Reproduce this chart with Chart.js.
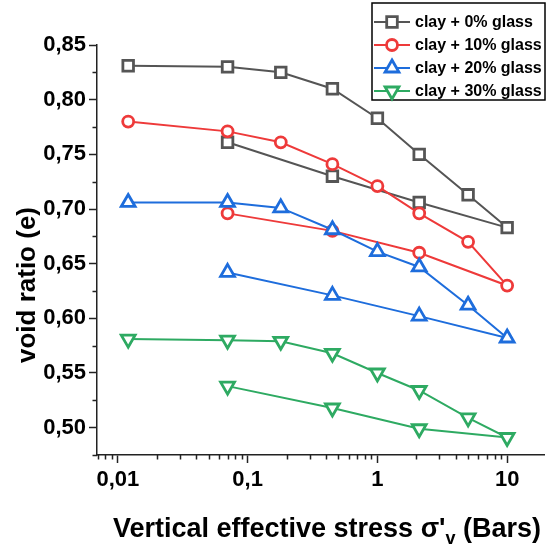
<!DOCTYPE html>
<html>
<head>
<meta charset="utf-8">
<script src="https://cdn.jsdelivr.net/npm/chart.js@4.4.0/dist/chart.umd.min.js"></script>
<style>
html, body { margin: 0; padding: 0; background: #fff; }
#wrap { width: 555px; height: 549px; position: relative; }
</style>
</head>
<body>
<div id="wrap"><canvas id="voidChart" width="555" height="549"></canvas></div>
<script>
// loading path then unloading path (stress in bars)
var stress = [0.012, 0.07, 0.18, 0.45, 1, 2.1, 5, 10, 2.1, 0.45, 0.07];
var glass0 = [0.831, 0.830, 0.825, 0.810, 0.783, 0.750, 0.713, 0.683, 0.706, 0.730, 0.761];
var glass10 = [0.780, 0.771, 0.761, 0.741, 0.721, 0.696, 0.670, 0.630, 0.660, 0.680, 0.696];
var glass20 = [0.706, 0.706, 0.701, 0.681, 0.661, 0.647, 0.612, 0.582, 0.602, 0.621, 0.642];
var glass30 = [0.581, 0.580, 0.579, 0.568, 0.550, 0.534, 0.509, 0.491, 0.499, 0.518, 0.538];

var seriesNames = ['clay + 0% glass', 'clay + 10% glass', 'clay + 20% glass', 'clay + 30% glass'];
var seriesColors = ['#555555', '#ee3a3a', '#1e6ddc', '#2eaa62'];

var xMajorTicks = [0.01, 0.1, 1, 10];
var xTickLabels = ['0,01', '0,1', '1', '10'];
var yTicks = [0.50, 0.55, 0.60, 0.65, 0.70, 0.75, 0.80, 0.85];
var yTickLabels = ['0,50', '0,55', '0,60', '0,65', '0,70', '0,75', '0,80', '0,85'];

var X_MIN = 0.0069, X_MAX = 19.3;
var Y_MIN = 0.475, Y_MAX = 0.85;
var AXIS_COLOR = '#222';
var FONT = '"Liberation Sans", Arial, sans-serif';

function toPoints(ys) {
    return stress.map(function (s, i) { return { x: s, y: ys[i] }; });
}

function isXMajor(v) {
    return xMajorTicks.some(function (m) { return Math.abs(v - m) / m < 1e-6; });
}

function isYMajor(v) {
    return Math.round(v * 40) % 2 === 0;
}

var markers = [
    { style: 'rect', radius: 7.5, rotation: 0 },
    { style: 'circle', radius: 5.5, rotation: 0 },
    { style: 'triangle', radius: 8, rotation: 0 },
    { style: 'triangle', radius: 8, rotation: 180 }
];

function makeDataset(i, ys) {
    return {
        label: seriesNames[i],
        data: toPoints(ys),
        borderColor: seriesColors[i],
        borderWidth: 2,
        pointStyle: markers[i].style,
        pointRadius: markers[i].radius,
        pointHoverRadius: markers[i].radius,
        pointRotation: markers[i].rotation,
        pointBorderColor: seriesColors[i],
        pointBackgroundColor: '#fff',
        pointBorderWidth: 2.8,
        tension: 0,
        order: 4 - i
    };
}

// short minor ticks on both axes
var minorTicks = {
    id: 'minorTicks',
    afterDraw: function (chart) {
        var ctx = chart.ctx;
        var xs = chart.scales.x, ys = chart.scales.y;
        ctx.save();
        ctx.strokeStyle = AXIS_COLOR;
        ctx.lineWidth = 1.5;
        ctx.beginPath();
        xs.ticks.forEach(function (t) {
            if (isXMajor(t.value)) return;
            var px = Math.round(xs.getPixelForValue(t.value)) + 0.5;
            ctx.moveTo(px, xs.top);
            ctx.lineTo(px, xs.top + 4.5);
        });
        ys.ticks.forEach(function (t) {
            if (isYMajor(t.value)) return;
            var py = Math.round(ys.getPixelForValue(t.value)) + 0.5;
            ctx.moveTo(ys.right, py);
            ctx.lineTo(ys.right - 4.5, py);
        });
        ctx.stroke();
        ctx.restore();
    }
};

var axisTitles = {
    id: 'axisTitles',
    afterDraw: function (chart) {
        var ctx = chart.ctx, area = chart.chartArea;
        ctx.save();
        ctx.fillStyle = '#000';
        ctx.font = 'bold 26px ' + FONT;
        ctx.textAlign = 'center';
        ctx.textBaseline = 'middle';
        ctx.translate(area.left - 69, area.top + 240);
        ctx.rotate(-Math.PI / 2);
        ctx.fillText('void ratio (e)', 0, 0);
        ctx.restore();

        ctx.save();
        ctx.fillStyle = '#000';
        ctx.textBaseline = 'alphabetic';
        ctx.textAlign = 'left';
        var main = 'bold 27px ' + FONT, sub = 'bold 18px ' + FONT;
        var p1 = "Vertical effective stress \u03c3'", p2 = 'v', p3 = ' (Bars)';
        ctx.font = main;
        var w1 = ctx.measureText(p1).width, w3 = ctx.measureText(p3).width;
        ctx.font = sub;
        var w2 = ctx.measureText(p2).width;
        var x = 327 - (w1 + w2 + w3) / 2, base = area.bottom + 82;
        ctx.font = main;
        ctx.fillText(p1, x, base);
        ctx.font = sub;
        ctx.fillText(p2, x + w1, base + 7);
        ctx.font = main;
        ctx.fillText(p3, x + w1 + w2, base);
        ctx.restore();
    }
};

var boxLegend = {
    id: 'boxLegend',
    afterDraw: function (chart) {
        var ctx = chart.ctx;
        var bx = 372, by = 3, bw = 173, bh = 97;
        ctx.save();
        ctx.fillStyle = '#fff';
        ctx.fillRect(bx, by, bw, bh);
        ctx.strokeStyle = '#000';
        ctx.lineWidth = 1.5;
        ctx.strokeRect(bx, by, bw, bh);
        ctx.font = 'bold 16px ' + FONT;
        ctx.textBaseline = 'middle';
        for (var i = 0; i < seriesNames.length; i++) {
            var ry = 22 + i * 23;
            ctx.strokeStyle = seriesColors[i];
            ctx.lineWidth = 2;
            ctx.beginPath();
            ctx.moveTo(374, ry);
            ctx.lineTo(410, ry);
            ctx.stroke();
            ctx.fillStyle = '#fff';
            ctx.lineWidth = 2.8;
            Chart.helpers.drawPoint(ctx, {
                pointStyle: markers[i].style,
                rotation: markers[i].rotation,
                radius: markers[i].radius,
                borderWidth: 2.8
            }, 392, ry);
            ctx.fillStyle = '#000';
            ctx.fillText(seriesNames[i], 415, ry + 1);
        }
        ctx.restore();
    }
};

var ctx = document.getElementById('voidChart').getContext('2d');
var chart = new Chart(ctx, {
    type: 'line',
    data: {
        datasets: [
            makeDataset(0, glass0),
            makeDataset(1, glass10),
            makeDataset(2, glass20),
            makeDataset(3, glass30)
        ]
    },
    options: {
        responsive: false,
        animation: false,
        events: [],
        layout: { padding: { top: 45, right: 0, left: 0, bottom: 0 } },
        plugins: {
            legend: { display: false },
            tooltip: { enabled: false }
        },
        scales: {
            x: {
                type: 'logarithmic',
                min: X_MIN,
                max: X_MAX,
                afterBuildTicks: function (scale) {
                    var vals = [];
                    for (var e = -3; e <= 1; e++) {
                        for (var m = 1; m <= 9; m++) {
                            var v = Number((m * Math.pow(10, e)).toPrecision(6));
                            if (v >= X_MIN && v <= X_MAX) vals.push({ value: v });
                        }
                    }
                    scale.ticks = vals;
                },
                afterFit: function (scale) { scale.height = 94; },
                border: { color: AXIS_COLOR, width: 1.5 },
                grid: {
                    drawOnChartArea: false,
                    tickLength: 8,
                    tickWidth: 1.5,
                    tickColor: function (c) { return c.tick && isXMajor(c.tick.value) ? AXIS_COLOR : 'rgba(0,0,0,0)'; }
                },
                ticks: {
                    autoSkip: false,
                    maxRotation: 0,
                    padding: 4,
                    color: '#000',
                    font: { family: FONT, size: 22, weight: 'bold' },
                    callback: function (value) {
                        for (var i = 0; i < xMajorTicks.length; i++) {
                            if (Math.abs(value - xMajorTicks[i]) / xMajorTicks[i] < 1e-6) return xTickLabels[i];
                        }
                        return '';
                    }
                }
            },
            y: {
                type: 'linear',
                min: Y_MIN,
                max: Y_MAX,
                afterFit: function (scale) { scale.width = 97; },
                border: { color: AXIS_COLOR, width: 1.5 },
                grid: {
                    drawOnChartArea: false,
                    tickLength: 8,
                    tickWidth: 1.5,
                    tickColor: function (c) { return c.tick && isYMajor(c.tick.value) ? AXIS_COLOR : 'rgba(0,0,0,0)'; }
                },
                ticks: {
                    stepSize: 0.025,
                    autoSkip: false,
                    padding: 3,
                    color: '#000',
                    font: { family: FONT, size: 22, weight: 'bold' },
                    callback: function (value) {
                        for (var i = 0; i < yTicks.length; i++) {
                            if (Math.abs(value - yTicks[i]) < 1e-6) return yTickLabels[i];
                        }
                        return '';
                    }
                }
            }
        }
    },
    plugins: [minorTicks, axisTitles, boxLegend]
});
</script>
</body>
</html>
